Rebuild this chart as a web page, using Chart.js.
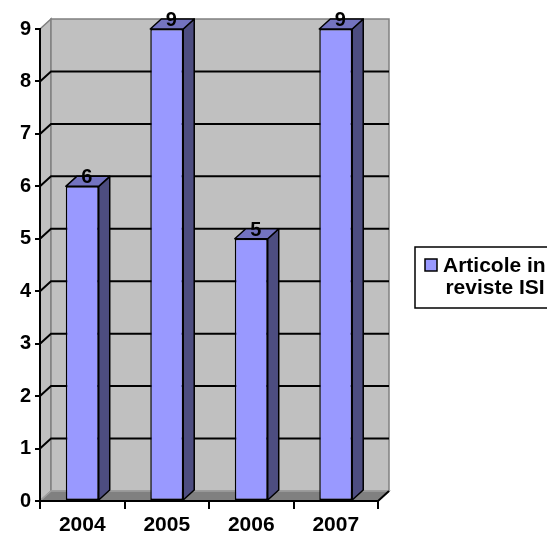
<!DOCTYPE html>
<html>
<head>
<meta charset="utf-8">
<script src="https://cdn.jsdelivr.net/npm/chart.js@4.4.1/dist/chart.umd.min.js"></script>
<style>
html, body { margin: 0; padding: 0; background: #fff; overflow: hidden; }
#wrap { position: relative; width: 547px; height: 533px; }
</style>
</head>
<body>
<div id="wrap"><canvas id="isiChart"></canvas></div>
<script>
// data
var categories = ['2004', '2005', '2006', '2007'];
var articoleISI = [6, 9, 5, 9];
var seriesName = 'Articole in reviste ISI';
var legendLines = ['Articole in', 'reviste ISI'];
var yMin = 0, yMax = 9, yStep = 1;

// fake 3d depth, excel style
var DX = 11, DY = -10;
var FONT = "'Liberation Sans', Arial, sans-serif";

function poly(ctx, pts) {
	ctx.beginPath();
	ctx.moveTo(pts[0][0], pts[0][1]);
	for (var i = 1; i < pts.length; i++) ctx.lineTo(pts[i][0], pts[i][1]);
	ctx.closePath();
}

var wall3d = {
	id: 'wall3d',
	beforeDraw: function(chart) {
		var ctx = chart.ctx, a = chart.chartArea, ys = chart.scales.y;
		ctx.save();
		ctx.fillStyle = '#c0c0c0';
		ctx.strokeStyle = '#808080';
		ctx.lineWidth = 1.5;
		// side wall
		poly(ctx, [[a.left, a.top], [a.left + DX, a.top + DY], [a.left + DX, a.bottom + DY], [a.left, a.bottom]]);
		ctx.fill(); ctx.stroke();
		// back wall
		ctx.fillRect(a.left + DX, a.top + DY, a.right - a.left, a.bottom - a.top);
		ctx.strokeRect(a.left + DX, a.top + DY, a.right - a.left, a.bottom - a.top);
		// floor
		ctx.fillStyle = '#808080';
		ctx.strokeStyle = '#a0a0a0';
		poly(ctx, [[a.left, a.bottom], [a.right, a.bottom], [a.right + DX, a.bottom + DY], [a.left + DX, a.bottom + DY]]);
		ctx.fill(); ctx.stroke();
		// gridlines on the walls
		ctx.strokeStyle = '#000';
		ctx.lineWidth = 2;
		for (var v = yMin + yStep; v < yMax; v += yStep) {
			var py = ys.getPixelForValue(v);
			ctx.beginPath();
			ctx.moveTo(a.left, py);
			ctx.lineTo(a.left + DX, py + DY);
			ctx.lineTo(a.right + DX, py + DY);
			ctx.stroke();
		}
		ctx.beginPath();
		ctx.moveTo(a.right, a.bottom);
		ctx.lineTo(a.right + DX, a.bottom + DY);
		ctx.stroke();
		ctx.restore();
	},
	afterDatasetsDraw: function(chart) {
		var ctx = chart.ctx;
		var meta = chart.getDatasetMeta(0);
		ctx.save();
		ctx.strokeStyle = '#000';
		ctx.lineWidth = 1.5;
		ctx.lineJoin = 'round';
		meta.data.forEach(function(bar, i) {
			var l = bar.x - bar.width / 2, r = bar.x + bar.width / 2, t = bar.y, b = bar.base;
			ctx.fillStyle = '#4d4d80';
			poly(ctx, [[r, t], [r + DX, t + DY], [r + DX, b + DY], [r, b]]);
			ctx.fill(); ctx.stroke();
			ctx.fillStyle = '#7373c0';
			poly(ctx, [[l, t], [l + DX, t + DY], [r + DX, t + DY], [r, t]]);
			ctx.fill(); ctx.stroke();
			// value label
			ctx.fillStyle = '#000';
			ctx.font = 'bold 20px ' + FONT;
			ctx.textAlign = 'center';
			ctx.textBaseline = 'alphabetic';
			ctx.fillText(String(articoleISI[i]), bar.x + DX / 2 - 1, t - 3);
		});
		ctx.restore();
	},
	afterDraw: function(chart) {
		var ctx = chart.ctx;
		ctx.save();
		ctx.fillStyle = '#fff';
		ctx.strokeStyle = '#000';
		ctx.lineWidth = 1.5;
		ctx.fillRect(415, 247, 200, 61);
		ctx.strokeRect(415, 247, 200, 61);
		ctx.fillStyle = chart.data.datasets[0].backgroundColor;
		ctx.fillRect(425, 259, 12, 12);
		ctx.strokeRect(425, 259, 12, 12);
		ctx.fillStyle = '#000';
		ctx.font = 'bold 21px ' + FONT;
		ctx.textAlign = 'left';
		ctx.fillText(legendLines[0], 443, 272);
		ctx.textAlign = 'center';
		ctx.fillText(legendLines[1], 495, 294);
		ctx.restore();
	}
};

var ctx = document.getElementById('isiChart').getContext('2d');
var isiChart = new Chart(ctx, {
	type: 'bar',
	data: {
		labels: categories,
		datasets: [{
			label: seriesName,
			data: articoleISI,
			backgroundColor: '#9999ff',
			borderColor: '#000',
			borderWidth: 1.5,
			borderSkipped: false,
			barPercentage: 1,
			categoryPercentage: 0.39
		}]
	},
	options: {
		responsive: true,
		maintainAspectRatio: false,
		animation: false,
		layout: { padding: { top: 29, right: 169, left: 0, bottom: 0 } },
		plugins: { legend: { display: false }, tooltip: { enabled: false } },
		scales: {
			x: {
				grid: { display: true, drawOnChartArea: false, tickLength: 8, color: '#000', lineWidth: 2 },
				border: { display: true, color: '#000', width: 2 },
				ticks: { color: '#000', font: { family: FONT, size: 21, weight: 'bold' }, padding: 4, maxRotation: 0 },
				afterFit: function(s) { s.height = 32; }
			},
			y: {
				min: yMin,
				max: yMax,
				grid: { display: true, drawOnChartArea: false, tickLength: 5, color: '#000', lineWidth: 2 },
				border: { display: true, color: '#000', width: 2 },
				ticks: { stepSize: yStep, color: '#000', font: { family: FONT, size: 20, weight: 'bold' }, padding: 4 },
				afterFit: function(s) { s.width = 40; }
			}
		}
	},
	plugins: [wall3d]
});
</script>
</body>
</html>
